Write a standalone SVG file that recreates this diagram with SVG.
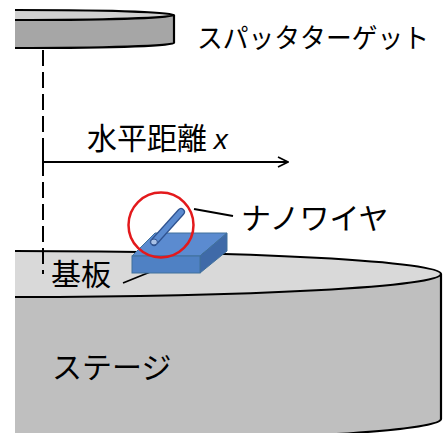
<svg xmlns="http://www.w3.org/2000/svg" width="443" height="433" viewBox="0 0 443 433">
  <defs>
    <clipPath id="cut">
      <rect x="15" y="0" width="428" height="433"/>
    </clipPath>
    <marker id="open" viewBox="0 0 12 12" refX="11" refY="6" markerWidth="12" markerHeight="12" markerUnits="userSpaceOnUse" orient="auto">
      <path d="M1,1 L11,6 L1,11" fill="none" stroke="#000" stroke-width="1.6"/>
    </marker>
  </defs>
  <style>
    .lbl { font-family: "Noto Sans CJK JP", "Noto Sans", sans-serif; fill: #000; }
    .edge { stroke: #000; stroke-width: 2.2; }
    .lead { stroke: #000; stroke-width: 1.8; fill: none; }
  </style>
  <rect width="443" height="433" fill="#fff"/>

  <!-- stage (large disc, cut at the left) -->
  <g id="stage" clip-path="url(#cut)">
    <path d="M-411,274 L441,274 L441,419 A426,23 0 0 1 -411,419 Z" fill="#bfbfbf"/>
    <path d="M441,274 L441,419 A426,23 0 0 1 -411,419" fill="none" class="edge"/>
    <ellipse cx="15" cy="274" rx="426" ry="23" fill="#d9d9d9" class="edge"/>
    <text class="lbl" x="52" y="378" font-size="30">ステージ</text>
  </g>

  <!-- sputter target (small disc at the top) -->
  <g id="target" clip-path="url(#cut)">
    <path d="M-144,15 L174,15 L174,43 A159,5 0 0 1 -144,43 Z" fill="#a6a6a6"/>
    <path d="M174,15 L174,43 A159,5 0 0 1 -144,43" fill="none" class="edge"/>
    <ellipse cx="15" cy="15" rx="159" ry="5" fill="#d0d0d0" class="edge"/>
  </g>
  <text id="target-label" class="lbl" x="197" y="48" font-size="27" textLength="232" lengthAdjust="spacingAndGlyphs">スパッタターゲット</text>

  <!-- connectors: centre line and distance arrow -->
  <g id="connectors">
    <line x1="43" y1="50" x2="43" y2="274" stroke="#000" stroke-width="2" stroke-dasharray="16,6"/>
    <line x1="43" y1="162" x2="288" y2="162" stroke="#000" stroke-width="1.8" marker-end="url(#open)"/>
    <line x1="43" y1="154" x2="43" y2="170" stroke="#000" stroke-width="2"/>
    <path class="lead" d="M123,283 L160,268"/>
    <path class="lead" d="M194,209 L233,216"/>
  </g>
  <text id="distance-label" class="lbl" x="87" y="149" font-size="30">水平距離 <tspan font-family="Liberation Sans, sans-serif" font-style="italic" font-size="28">x</tspan></text>

  <!-- substrate block -->
  <g id="substrate">
    <polygon points="132,256 155,233 227,233 200,256" fill="#5b8bd0" stroke="#41719c" stroke-width="1"/>
    <polygon points="200,256 227,233 227,251 200,273" fill="#3f6aa8" stroke="#41719c" stroke-width="1"/>
    <rect x="132" y="256" width="68" height="17" fill="#4f81c4" stroke="#41719c" stroke-width="1"/>
    <text class="lbl" x="51" y="285" font-size="30">基板</text>
  </g>

  <!-- nanowire with highlight circle -->
  <g id="nanowire">
    <line x1="154" y1="242" x2="181" y2="212" stroke="#2f528f" stroke-width="8" stroke-linecap="round"/>
    <line x1="154" y1="242" x2="181" y2="212" stroke="#5b8bd0" stroke-width="5.5" stroke-linecap="round"/>
    <ellipse cx="154" cy="242" rx="3.4" ry="3" fill="#a9c1e6" stroke="#2f528f" stroke-width="1"/>
    <circle cx="161" cy="225" r="32.5" fill="none" stroke="#e3191c" stroke-width="2.5"/>
    <text class="lbl" x="241" y="229" font-size="30">ナノワイヤ</text>
  </g>
</svg>
